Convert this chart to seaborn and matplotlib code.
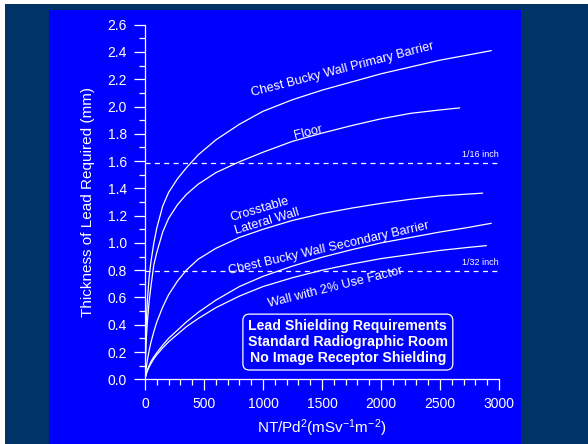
import numpy as np
import pandas as pd
import seaborn as sns
from matplotlib import pyplot as plt
from matplotlib.patches import Rectangle
from matplotlib.ticker import MultipleLocator, FormatStrFormatter

sns.set_style("ticks")
plt.rcParams['font.family'] = ['Liberation Sans', 'DejaVu Sans']
plt.rcParams['mathtext.default'] = 'regular'

NAVY = '#003366'
BLUE = '#0000ff'

# curves: workload NT/Pd^2 vs lead thickness (mm)
xs_common = [0, 2, 5, 10, 20, 35, 50, 75, 100, 150, 200, 275, 350, 450, 600, 800,
             1000, 1250, 1500, 1750, 2000, 2250, 2500, 2750]

primary_x = xs_common + [2935]
primary_y = [0, 0.12, 0.25, 0.40, 0.58, 0.75, 0.86, 1.0, 1.11, 1.27, 1.37, 1.47, 1.55, 1.645,
             1.755, 1.87, 1.965, 2.05, 2.12, 2.18, 2.24, 2.29, 2.34, 2.38, 2.41]

floor_x = xs_common[:-1] + [2667]
floor_y = [0, 0.08, 0.17, 0.28, 0.42, 0.57, 0.68, 0.84, 0.93, 1.08, 1.18, 1.28, 1.355, 1.43,
           1.515, 1.595, 1.665, 1.745, 1.805, 1.86, 1.91, 1.95, 1.975, 1.99]

cross_x = xs_common[:-1] + [2862]
cross_y = [0, 0.015, 0.04, 0.08, 0.14, 0.21, 0.27, 0.35, 0.42, 0.53, 0.62, 0.72, 0.80, 0.88,
           0.96, 1.04, 1.10, 1.165, 1.215, 1.255, 1.29, 1.32, 1.345, 1.365]

secondary_x = xs_common + [2935]
secondary_y = [0, 0.01, 0.02, 0.04, 0.07, 0.10, 0.13, 0.165, 0.195, 0.25, 0.30, 0.36, 0.42, 0.49,
               0.58, 0.68, 0.755, 0.83, 0.895, 0.95, 1.0, 1.04, 1.08, 1.115, 1.144]

wall_x = xs_common + [2893]
wall_y = [0, 0.01, 0.02, 0.035, 0.06, 0.09, 0.115, 0.15, 0.18, 0.23, 0.275, 0.33, 0.385, 0.445,
          0.525, 0.61, 0.68, 0.745, 0.80, 0.845, 0.885, 0.915, 0.945, 0.968, 0.98]

inch_lines = [1.5875, 0.79375]
inch_labels = ['1/16 inch', '1/32 inch']

frames = []
for name, xs, ys in [('primary', primary_x, primary_y), ('floor', floor_x, floor_y),
                     ('cross', cross_x, cross_y), ('secondary', secondary_x, secondary_y),
                     ('wall', wall_x, wall_y)]:
    frames.append(pd.DataFrame({'x': xs, 'y': ys, 'curve': name}))
df = pd.concat(frames, ignore_index=True)

fig = plt.figure(figsize=(5.88, 4.44), dpi=100, facecolor='white')
# navy background and blue panel
fig.patches.append(Rectangle((5 / 588, 0), 1, 1 - 4 / 444, transform=fig.transFigure,
                             facecolor=NAVY, edgecolor='none', zorder=-2))
fig.patches.append(Rectangle((49 / 588, 0), 472 / 588, 1 - 10 / 444, transform=fig.transFigure,
                             facecolor=BLUE, edgecolor='none', zorder=-1))

ax = fig.add_axes([145 / 588, 1 - 379.3 / 444, 354 / 588, 354.6 / 444])
ax.set_facecolor('none')

sns.lineplot(data=df, x='x', y='y', hue='curve', palette=['white'] * 5,
             legend=False, linewidth=0.9, ax=ax)

for yv, lab in zip(inch_lines, inch_labels):
    ax.hlines(yv, 0, 3000, colors='white', linewidth=0.9, linestyles=(0, (4, 3.5)))
    ax.text(2995, yv + 0.03, lab, color='white', fontsize=6.5, ha='right', va='bottom')

lbl = dict(color='white', fontsize=9.2, ha='center', va='center', rotation_mode='anchor')
ax.text(1676, 2.27, 'Chest Bucky Wall Primary Barrier', rotation=14.5, **lbl)
ax.text(1380, 1.81, 'Floor', rotation=14, **lbl)
ax.text(1016, 1.205, 'Crosstable\nLateral Wall', rotation=16.5, multialignment='left', **lbl)
ax.text(1558, 0.962, 'Cbest Bucky Wall Secondary Barrier', rotation=12.8, **lbl)
ax.text(1617, 0.675, 'Wall with 2% Use Factor', rotation=14, **lbl)

ax.text(1719, 0.273, 'Lead Shielding Requirements\nStandard Radiographic Room\nNo Image Receptor Shielding',
        color='white', fontsize=10.2, fontweight='bold', ha='center', va='center', linespacing=1.18,
        bbox=dict(boxstyle='round,pad=0.35,rounding_size=0.45', facecolor='none', edgecolor='white', linewidth=0.9))

ax.set_xlim(0, 3000)
ax.set_ylim(0, 2.6)
ax.xaxis.set_major_locator(MultipleLocator(500))
ax.xaxis.set_minor_locator(MultipleLocator(100))
ax.yaxis.set_major_locator(MultipleLocator(0.2))
ax.yaxis.set_minor_locator(MultipleLocator(0.1))
ax.yaxis.set_major_formatter(FormatStrFormatter('%.1f'))

for s in ['top', 'right']:
    ax.spines[s].set_visible(False)
for s in ['left', 'bottom']:
    ax.spines[s].set_color('white')
    ax.spines[s].set_linewidth(0.9)

ax.tick_params(which='major', length=8, width=0.9, colors='white', labelsize=10, pad=5, direction='out')
ax.tick_params(which='minor', length=4.3, width=0.9, colors='white', direction='out')

ax.set_xlabel(r'NT/Pd$^2$(mSv$^{-1}$m$^{-2}$)', color='white', fontsize=11, labelpad=4)
ax.set_ylabel('Thickness of Lead Required (mm)', color='white', fontsize=11, labelpad=9)

fig.savefig('out.png', dpi=100, facecolor=fig.get_facecolor())
